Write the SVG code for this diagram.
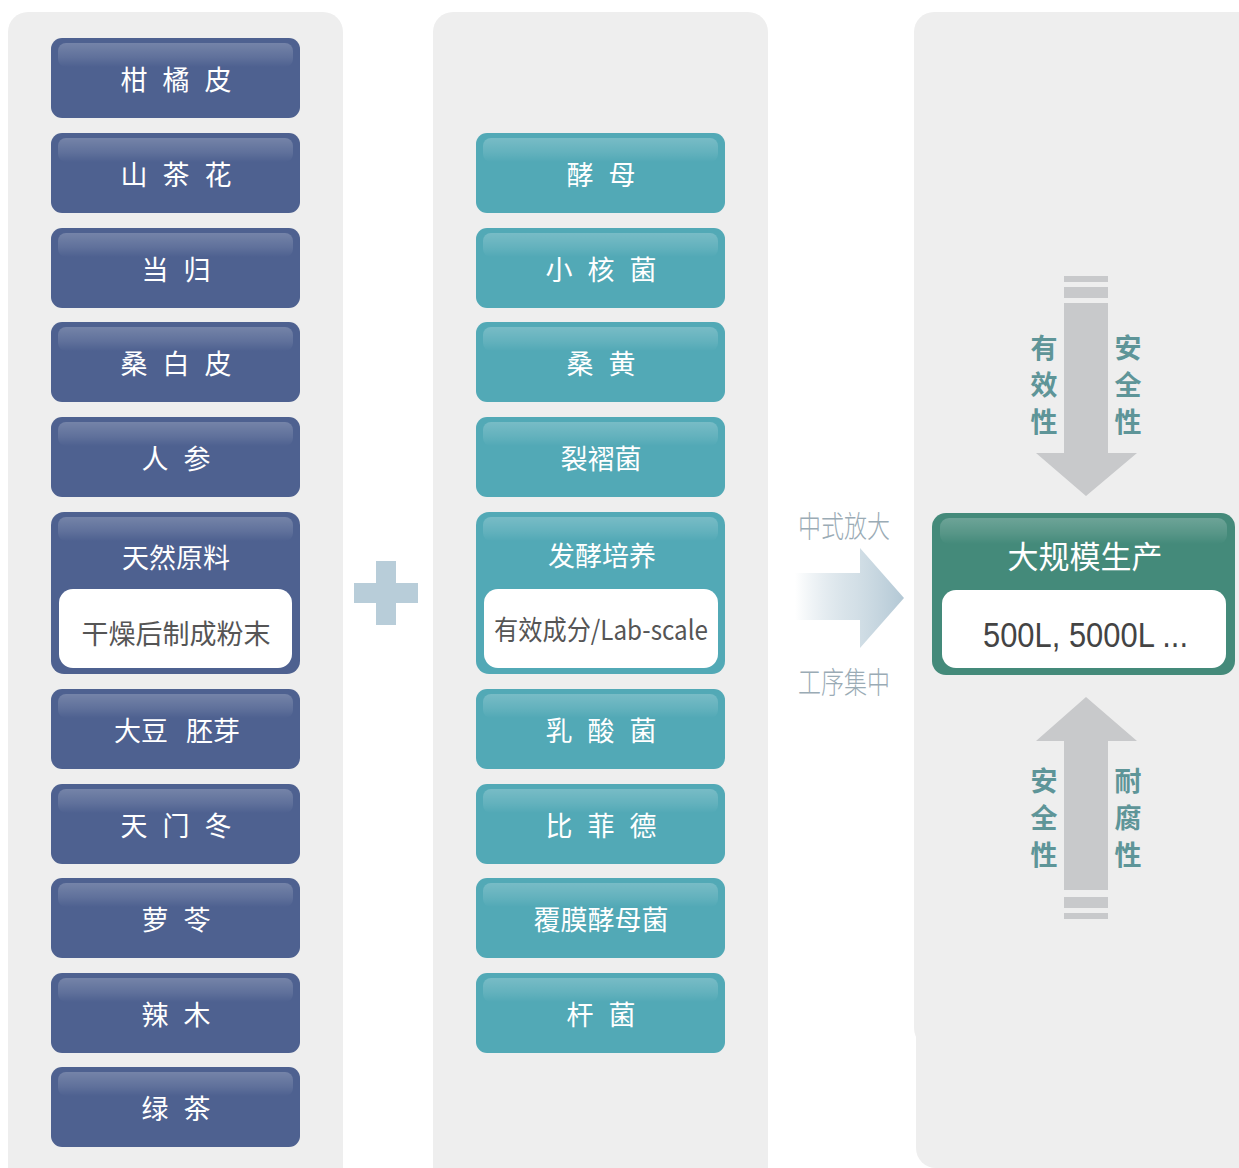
<svg xmlns="http://www.w3.org/2000/svg" width="1239" height="1168" viewBox="0 0 1239 1168">
<defs>
<linearGradient id="gloss" x1="0" y1="0" x2="0" y2="1">
<stop offset="0" stop-color="#ffffff" stop-opacity="0.22"/>
<stop offset="0.6" stop-color="#ffffff" stop-opacity="0.1"/>
<stop offset="1" stop-color="#ffffff" stop-opacity="0"/>
</linearGradient>
<linearGradient id="arrowGrad" x1="0" y1="0" x2="1" y2="0">
<stop offset="0" stop-color="#b3c8d5" stop-opacity="0"/>
<stop offset="0.55" stop-color="#c9d8e1" stop-opacity="0.8"/>
<stop offset="1" stop-color="#b3c8d5"/>
</linearGradient>
<style>
.panel{fill:#eeeeee}
.blue{fill:#4e6190}
.teal{fill:#52a9b6}
.green{fill:#448a7a}
.gl{fill:url(#gloss)}
.inner{fill:#ffffff}
.t{font-family:"Noto Sans CJK SC","Noto Sans",sans-serif;font-size:27px;fill:#ffffff;text-anchor:middle;word-spacing:9px}
.d{font-family:"Noto Sans CJK SC","Noto Sans",sans-serif;font-size:27px;fill:#555555;text-anchor:middle}
.side{font-family:"Noto Sans CJK SC","Noto Sans",sans-serif;font-size:30px;font-weight:300;fill:#9aabb5;text-anchor:middle}
.v{font-family:"Noto Sans CJK SC","Noto Sans",sans-serif;font-size:27px;font-weight:bold;fill:#5e9598;text-anchor:middle}
.garrow{fill:#c8c9cb}
</style>
</defs>
<g id="panels">
<rect class="panel" x="8" y="12" width="335" height="1176" rx="20"/>
<rect class="panel" x="433" y="12" width="335" height="1176" rx="20"/>
<rect class="panel" x="914" y="12" width="360" height="1036" rx="20"/>
<rect class="panel" x="916" y="1000" width="360" height="168" rx="20"/>
<rect class="panel" x="916" y="980" width="360" height="60"/>
</g>
<g id="plus">
<rect x="376" y="561" width="20" height="64" fill="#b8cdd9"/>
<rect x="354" y="583" width="64" height="20" fill="#b8cdd9"/>
</g>
<g id="left-column">
<g id="n-ganjupi"><rect class="blue" x="51" y="38" width="249" height="80" rx="11"/><rect class="gl" x="58" y="43" width="235" height="24" rx="8"/><text class="t" x="176" y="90">柑 橘 皮</text></g>
<g id="n-shanchahua"><rect class="blue" x="51" y="133" width="249" height="80" rx="11"/><rect class="gl" x="58" y="138" width="235" height="24" rx="8"/><text class="t" x="176" y="185">山 茶 花</text></g>
<g id="n-danggui"><rect class="blue" x="51" y="228" width="249" height="80" rx="11"/><rect class="gl" x="58" y="233" width="235" height="24" rx="8"/><text class="t" x="176" y="280">当 归</text></g>
<g id="n-sangbaipi"><rect class="blue" x="51" y="322" width="249" height="80" rx="11"/><rect class="gl" x="58" y="327" width="235" height="24" rx="8"/><text class="t" x="176" y="374">桑 白 皮</text></g>
<g id="n-renshen"><rect class="blue" x="51" y="417" width="249" height="80" rx="11"/><rect class="gl" x="58" y="422" width="235" height="24" rx="8"/><text class="t" x="176" y="469">人 参</text></g>
<g id="n-natural"><rect class="blue" x="51" y="512" width="249" height="162" rx="13"/><rect class="gl" x="58" y="517" width="235" height="24" rx="8"/><text class="t" x="176" y="568">天然原料</text><rect class="inner" x="59" y="589" width="233" height="79" rx="14"/><text class="d" x="176" y="644">干燥后制成粉末</text></g>
<g id="n-dadou"><rect class="blue" x="51" y="689" width="249" height="80" rx="11"/><rect class="gl" x="58" y="694" width="235" height="24" rx="8"/><text class="t" x="177" y="741" style="word-spacing:12px">大豆 胚芽</text></g>
<g id="n-tianmendong"><rect class="blue" x="51" y="784" width="249" height="80" rx="11"/><rect class="gl" x="58" y="789" width="235" height="24" rx="8"/><text class="t" x="176" y="836">天 门 冬</text></g>
<g id="n-luoling"><rect class="blue" x="51" y="878" width="249" height="80" rx="11"/><rect class="gl" x="58" y="883" width="235" height="24" rx="8"/><text class="t" x="176" y="930">萝 苓</text></g>
<g id="n-lamu"><rect class="blue" x="51" y="973" width="249" height="80" rx="11"/><rect class="gl" x="58" y="978" width="235" height="24" rx="8"/><text class="t" x="176" y="1025">辣 木</text></g>
<g id="n-lvcha"><rect class="blue" x="51" y="1067" width="249" height="80" rx="11"/><rect class="gl" x="58" y="1072" width="235" height="24" rx="8"/><text class="t" x="176" y="1119">绿 茶</text></g>
</g>
<g id="middle-column">
<g id="n-jiaomu"><rect class="teal" x="476" y="133" width="249" height="80" rx="11"/><rect class="gl" x="483" y="138" width="235" height="24" rx="8"/><text class="t" x="601" y="185">酵 母</text></g>
<g id="n-xiaohejun"><rect class="teal" x="476" y="228" width="249" height="80" rx="11"/><rect class="gl" x="483" y="233" width="235" height="24" rx="8"/><text class="t" x="601" y="280">小 核 菌</text></g>
<g id="n-sanghuang"><rect class="teal" x="476" y="322" width="249" height="80" rx="11"/><rect class="gl" x="483" y="327" width="235" height="24" rx="8"/><text class="t" x="601" y="374">桑 黄</text></g>
<g id="n-liezhejun"><rect class="teal" x="476" y="417" width="249" height="80" rx="11"/><rect class="gl" x="483" y="422" width="235" height="24" rx="8"/><text class="t" x="601" y="469">裂褶菌</text></g>
<g id="n-fajiao"><rect class="teal" x="476" y="512" width="249" height="162" rx="13"/><rect class="gl" x="483" y="517" width="235" height="24" rx="8"/><text class="t" x="602" y="566">发酵培养</text><rect class="inner" x="484" y="589" width="234" height="79" rx="14"/><text class="d" x="601" y="640" textLength="214" lengthAdjust="spacingAndGlyphs">有效成分/Lab-scale</text></g>
<g id="n-rusuanjun"><rect class="teal" x="476" y="689" width="249" height="80" rx="11"/><rect class="gl" x="483" y="694" width="235" height="24" rx="8"/><text class="t" x="601" y="741">乳 酸 菌</text></g>
<g id="n-bifeide"><rect class="teal" x="476" y="784" width="249" height="80" rx="11"/><rect class="gl" x="483" y="789" width="235" height="24" rx="8"/><text class="t" x="601" y="836">比 菲 德</text></g>
<g id="n-fumo"><rect class="teal" x="476" y="878" width="249" height="80" rx="11"/><rect class="gl" x="483" y="883" width="235" height="24" rx="8"/><text class="t" x="601" y="930">覆膜酵母菌</text></g>
<g id="n-ganjun"><rect class="teal" x="476" y="973" width="249" height="80" rx="11"/><rect class="gl" x="483" y="978" width="235" height="24" rx="8"/><text class="t" x="601" y="1025">杆 菌</text></g>
</g>
<g id="n-production">
<rect class="green" x="932" y="513" width="303" height="162" rx="14"/>
<rect class="gl" x="940" y="518" width="287" height="26" rx="9"/>
<text x="1085" y="568" style="font-family:'Noto Sans CJK SC','Noto Sans',sans-serif;font-size:31px;fill:#ffffff;text-anchor:middle">大规模生产</text>
<rect class="inner" x="942" y="590" width="284" height="78" rx="14"/>
<text x="983" y="647" textLength="205" lengthAdjust="spacingAndGlyphs" style="font-family:'Liberation Sans',Arial,sans-serif;font-size:35px;fill:#444444">500L, 5000L ...</text>
</g>
<g id="connectors">
<g id="scale-arrow">
<polygon points="795,573 860,573 860,548 904,598 860,648 860,620 795,620" fill="url(#arrowGrad)"/>
<text class="side" x="844" y="537" textLength="92" lengthAdjust="spacingAndGlyphs">中式放大</text>
<text class="side" x="844" y="693" textLength="92" lengthAdjust="spacingAndGlyphs">工序集中</text>
</g>
<g id="down-arrow">
<rect class="garrow" x="1064" y="276" width="44" height="6"/>
<rect class="garrow" x="1064" y="287" width="44" height="11"/>
<polygon class="garrow" points="1064,303 1108,303 1108,453 1137,453 1086,496 1036,453 1064,453"/>
<text class="v" x="1044" y="358">有</text><text class="v" x="1044" y="395">效</text><text class="v" x="1044" y="432">性</text>
<text class="v" x="1128" y="358">安</text><text class="v" x="1128" y="395">全</text><text class="v" x="1128" y="432">性</text>
</g>
<g id="up-arrow">
<polygon class="garrow" points="1086,697 1137,741 1108,741 1108,890 1064,890 1064,741 1036,741"/>
<rect class="garrow" x="1064" y="897" width="44" height="11"/>
<rect class="garrow" x="1064" y="913" width="44" height="6"/>
<text class="v" x="1044" y="791">安</text><text class="v" x="1044" y="828">全</text><text class="v" x="1044" y="865">性</text>
<text class="v" x="1128" y="791">耐</text><text class="v" x="1128" y="828">腐</text><text class="v" x="1128" y="865">性</text>
</g>
</g>
</svg>
